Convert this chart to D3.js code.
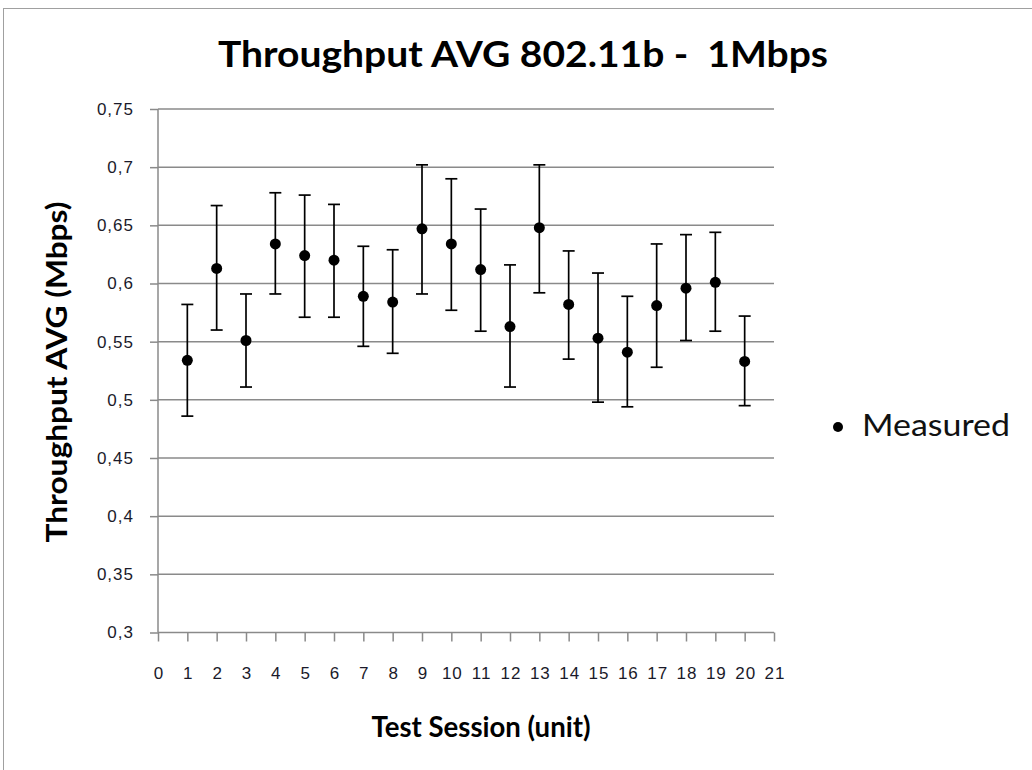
<!DOCTYPE html>
<html>
<head>
<meta charset="utf-8">
<script src="https://cdn.jsdelivr.net/npm/d3@7"></script>
<style>
  body { margin: 0; background: #fff; }
  svg { display: block; font-family: Lato, "Open Sans", sans-serif; }
  .grid line { stroke: #8a8a8a; stroke-width: 1.5px; }
  .axis path, .axis line { stroke: #8a8a8a; stroke-width: 1.5px; }
  .axis text { font-size: 17px; fill: #1a1a2a; letter-spacing: 1px; }
</style>
</head>
<body>
<script>
// test sessions and measured average throughput (Mbps)
var sessions = [1, 2, 3, 4, 5, 6, 7, 8, 9, 10, 11, 12, 13, 14, 15, 16, 17, 18, 19, 20];
var measured = [0.534, 0.613, 0.551, 0.634, 0.624, 0.620, 0.589, 0.584, 0.647, 0.634,
                0.612, 0.563, 0.648, 0.582, 0.553, 0.541, 0.581, 0.596, 0.601, 0.533];
// error bar ends
var upper = [0.582, 0.667, 0.591, 0.678, 0.676, 0.668, 0.632, 0.629, 0.702, 0.690,
             0.664, 0.616, 0.702, 0.628, 0.609, 0.589, 0.634, 0.642, 0.644, 0.572];
var lower = [0.486, 0.560, 0.511, 0.591, 0.571, 0.571, 0.546, 0.540, 0.591, 0.577,
             0.559, 0.511, 0.592, 0.535, 0.498, 0.494, 0.528, 0.551, 0.559, 0.495];
var xTicks = d3.range(0, 22);
var yTicks = [0.3, 0.35, 0.4, 0.45, 0.5, 0.55, 0.6, 0.65, 0.7, 0.75];

var width = 1032, height = 770;
var plotLeft = 158, plotRight = 774, plotTop = 109, plotBottom = 632.5;

var svg = d3.select("body").append("svg")
    .attr("width", width)
    .attr("height", height);

//outer chart frame
svg.append("rect")
    .attr("x", 3.5).attr("y", 8.5)
    .attr("width", width + 10).attr("height", height + 10)
    .attr("fill", "#fff")
    .attr("stroke", "#a0a0a0")
    .attr("stroke-width", 1);

var x = d3.scaleLinear().domain([0, 21]).range([plotLeft, plotRight]);
var y = d3.scaleLinear().domain([0.3, 0.75]).range([plotBottom, plotTop]);

//horizontal gridlines
svg.append("g")
    .attr("class", "grid")
    .selectAll("line")
    .data(yTicks.slice(1))
    .enter()
    .append("line")
    .attr("x1", plotLeft).attr("x2", plotRight)
    .attr("y1", function(d){ return y(d); })
    .attr("y2", function(d){ return y(d); });

//y axis
var yAxis = d3.axisLeft(y)
    .tickValues(yTicks)
    .tickSize(8)
    .tickPadding(16)
    .tickFormat(function(d){ return String(+d.toFixed(2)).replace(".", ","); });

svg.append("g")
    .attr("class", "axis")
    .attr("transform", "translate(" + plotLeft + ",0)")
    .call(yAxis)
    .call(function(g){ g.select(".domain").attr("d", "M0," + plotTop + "V" + plotBottom); });

//x axis
var xAxis = d3.axisBottom(x)
    .tickValues(xTicks)
    .tickSize(9)
    .tickPadding(25);

svg.append("g")
    .attr("class", "axis")
    .attr("transform", "translate(0," + plotBottom + ")")
    .call(xAxis)
    .call(function(g){ g.select(".domain").attr("d", "M" + plotLeft + ",0H" + plotRight); })
    .selectAll(".tick text")
    .attr("dx", "0.5px");

//error bars
var bars = svg.append("g")
    .selectAll("g")
    .data(sessions)
    .enter()
    .append("g")
    .attr("stroke", "#000")
    .attr("stroke-width", 1.7);

bars.append("line")
    .attr("x1", function(d){ return x(d); })
    .attr("x2", function(d){ return x(d); })
    .attr("y1", function(d, i){ return y(upper[i]); })
    .attr("y2", function(d, i){ return y(lower[i]); });

bars.append("line")
    .attr("x1", function(d){ return x(d) - 6; })
    .attr("x2", function(d){ return x(d) + 6; })
    .attr("y1", function(d, i){ return y(upper[i]); })
    .attr("y2", function(d, i){ return y(upper[i]); });

bars.append("line")
    .attr("x1", function(d){ return x(d) - 6; })
    .attr("x2", function(d){ return x(d) + 6; })
    .attr("y1", function(d, i){ return y(lower[i]); })
    .attr("y2", function(d, i){ return y(lower[i]); });

//points
svg.append("g")
    .selectAll("circle")
    .data(sessions)
    .enter()
    .append("circle")
    .attr("cx", function(d){ return x(d); })
    .attr("cy", function(d, i){ return y(measured[i]); })
    .attr("r", 5.5)
    .attr("fill", "#000");

//title
svg.append("text")
    .attr("x", 523)
    .attr("y", 66.5)
    .attr("text-anchor", "middle")
    .attr("font-size", 37)
    .attr("font-weight", "bold")
    .attr("textLength", 610)
    .attr("lengthAdjust", "spacingAndGlyphs")
    .style("white-space", "pre")
    .text("Throughput AVG 802.11b -  1Mbps");

//y axis title
svg.append("text")
    .attr("transform", "translate(67,372) rotate(-90)")
    .attr("text-anchor", "middle")
    .attr("font-size", 29)
    .attr("font-weight", "bold")
    .attr("textLength", 341)
    .attr("lengthAdjust", "spacingAndGlyphs")
    .text("Throughput AVG (Mbps)");

//x axis title
svg.append("text")
    .attr("x", 481)
    .attr("y", 737)
    .attr("text-anchor", "middle")
    .attr("font-size", 29)
    .attr("font-weight", "bold")
    .attr("textLength", 219)
    .attr("lengthAdjust", "spacingAndGlyphs")
    .text("Test Session (unit)");

//legend
var legend = svg.append("g");
legend.append("circle")
    .attr("cx", 838).attr("cy", 427)
    .attr("r", 5)
    .attr("fill", "#000");
legend.append("text")
    .attr("x", 862).attr("y", 436)
    .attr("font-size", 31)
    .attr("fill", "#111")
    .attr("textLength", 148)
    .attr("lengthAdjust", "spacingAndGlyphs")
    .text("Measured");
</script>
</body>
</html>
